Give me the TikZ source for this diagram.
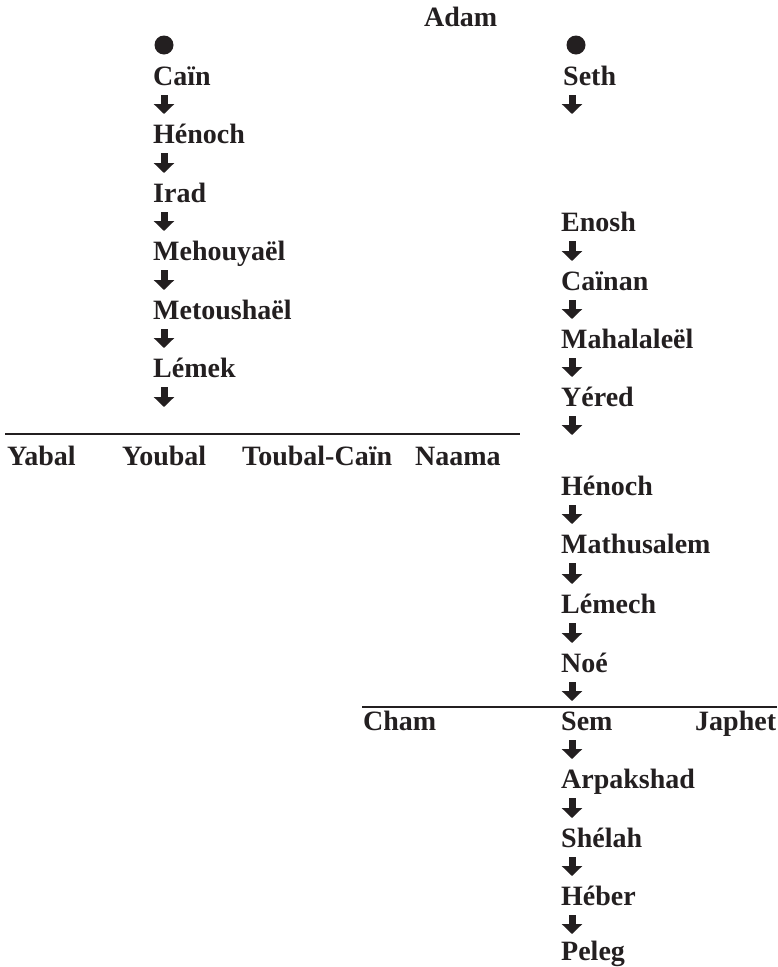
\documentclass[tikz,border=0pt]{standalone}
\usepackage{fontspec}
\setmainfont{Liberation Serif}
\usetikzlibrary{arrows.meta}
\definecolor{ink}{HTML}{231F20}
\begin{document}
\begin{tikzpicture}[x=1pt,y=-1pt,
    who/.style={anchor=base west,inner sep=0pt,text=ink,font=\fontsize{28}{30}\selectfont\bfseries},
    dot/.style={circle,fill=ink,inner sep=0pt,minimum size=19pt},
    descent/.style={line width=7pt,draw=ink,-{Triangle[width=20pt,length=10pt]},shorten <=10pt,shorten >=29pt},
    bar/.style={line width=2.5pt,draw=ink}]
        \useasboundingbox (0,0) rectangle (777,967);
        \draw (424,26) node[who](adam){Adam};
        \draw (164,45) node[dot](d1){};
        \draw (576,45) node[dot](d2){};
        \draw (153,85) node[who](cain){Caïn};
        \draw (153,143) node[who](hen1){Hénoch};
        \draw (153,202) node[who](irad){Irad};
        \draw (153,260) node[who](meh){Mehouyaël};
        \draw (153,319) node[who](met){Metoushaël};
        \draw (153,377) node[who](lemek){Lémek};
        \coordinate (b1l) at (5,434);
        \coordinate (b1r) at (520,434);
        \coordinate (b1m) at (164,434);
        \draw (7,465) node[who](yabal){Yabal};
        \draw (122,465) node[who](youbal){Youbal};
        \draw (242,465) node[who](toubal){Toubal-Caïn};
        \draw (415,465) node[who](naama){Naama};
        \draw (563,85) node[who](seth){Seth};
        \draw (561,231) node[who](enosh){Enosh};
        \draw (561,290) node[who](cainan){Caïnan};
        \draw (561,348) node[who](mahal){Mahalaleël};
        \draw (561,406) node[who](yered){Yéred};
        \draw (561,495) node[who](hen2){Hénoch};
        \draw (561,553) node[who](math){Mathusalem};
        \draw (561,613) node[who](lemech){Lémech};
        \draw (561,672) node[who](noe){Noé};
        \coordinate (b2l) at (362,707);
        \coordinate (b2r) at (777,707);
        \coordinate (b2m) at (572,707);
        \draw (363,730) node[who](cham){Cham};
        \draw (561,730) node[who](sem){Sem};
        \draw (695,730) node[who](japhet){Japhet};
        \draw (561,788) node[who](arpa){Arpakshad};
        \draw (561,847) node[who](shelah){Shélah};
        \draw (561,905) node[who](heber){Héber};
        \draw (561,960) node[who](peleg){Peleg};
        \draw[bar] (b1l) -- (b1r);
        \draw[bar] (b2l) -- (b2r);
        \foreach \a/\b in {cain/hen1,hen1/irad,irad/meh,meh/met,met/lemek,
            enosh/cainan,cainan/mahal,mahal/yered,hen2/math,math/lemech,lemech/noe,
            sem/arpa,arpa/shelah,shelah/heber}
          \draw[descent] ([xshift=11pt]\a.base west) -- ([xshift=11pt]\b.base west);
        \draw[descent,shorten >=26pt] ([xshift=11pt]heber.base west) -- ([xshift=11pt]peleg.base west);
        \draw[descent,shorten >=117pt] ([xshift=9pt]seth.base west) -- ([xshift=11pt]enosh.base west);
        \draw[descent,shorten >=60pt] ([xshift=11pt]yered.base west) -- ([xshift=11pt]hen2.base west);
        \draw[descent,shorten >=27pt] ([xshift=11pt]lemek.base west) -- (b1m);
        \draw[descent,shorten >=6pt] ([xshift=11pt]noe.base west) -- (b2m);
      \end{tikzpicture}
\end{document}
